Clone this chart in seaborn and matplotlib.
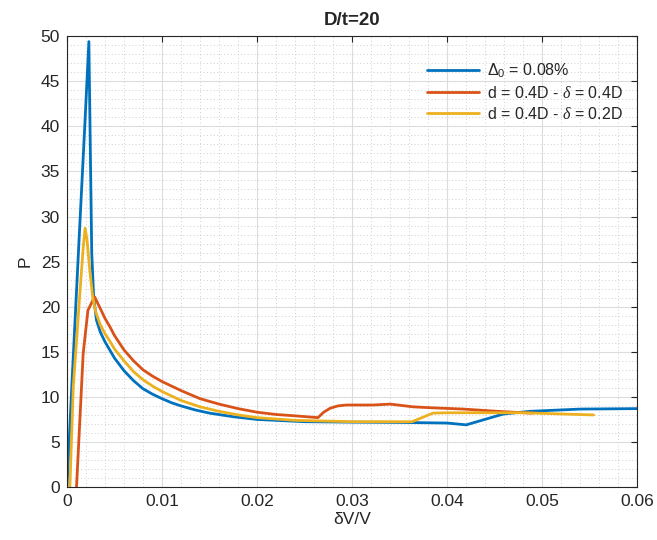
import pandas as pd
import matplotlib
matplotlib.use("Agg")
import matplotlib.pyplot as plt
import seaborn as sns
from matplotlib.ticker import MultipleLocator, FuncFormatter

# values
blue_x = [0, 0.0005, 0.0012, 0.0019, 0.0023, 0.0026, 0.0028, 0.0031, 0.0035, 0.004,
          0.0045, 0.005, 0.006, 0.007, 0.008, 0.009, 0.01, 0.011, 0.012, 0.0135,
          0.015, 0.0175, 0.02, 0.025, 0.03, 0.035, 0.04, 0.042, 0.0459, 0.0487,
          0.054, 0.06]
blue_p = [0, 11.1, 26.0, 40.7, 49.4, 26.0, 21.1, 18.5, 17.2, 16.1,
          15.2, 14.3, 12.9, 11.8, 10.9, 10.3, 9.8, 9.35, 9.0, 8.55,
          8.2, 7.8, 7.5, 7.25, 7.2, 7.17, 7.1, 6.9, 8.1, 8.4,
          8.65, 8.7]

orange_x = [0.001, 0.0017, 0.0022, 0.0029, 0.0035, 0.004, 0.0045, 0.005, 0.006, 0.007,
            0.008, 0.009, 0.01, 0.012, 0.014, 0.016, 0.018, 0.02, 0.022, 0.024,
            0.0264, 0.027, 0.0277, 0.0285, 0.0294, 0.0322, 0.034, 0.0364, 0.0382, 0.0417,
            0.0453, 0.048, 0.049]
orange_p = [0, 14.8, 19.6, 21.1, 19.8, 18.7, 17.8, 16.8, 15.2, 14.0,
            13.0, 12.3, 11.7, 10.7, 9.8, 9.2, 8.7, 8.3, 8.05, 7.9,
            7.7, 8.3, 8.75, 9.0, 9.1, 9.1, 9.2, 8.9, 8.8, 8.65,
            8.4, 8.24, 8.2]

yellow_x = [0.0003, 0.00066, 0.0014, 0.0017, 0.0019, 0.0021, 0.0024, 0.0027, 0.003, 0.0035,
            0.004, 0.0045, 0.005, 0.006, 0.007, 0.008, 0.009, 0.01, 0.012, 0.014,
            0.016, 0.018, 0.02, 0.024, 0.03, 0.0363, 0.0385, 0.040, 0.048, 0.0522,
            0.0554]
yellow_p = [0, 11.1, 22.2, 26.5, 28.7, 27.5, 24.0, 21.1, 19.5, 18.0,
            17.0, 16.2, 15.3, 14.0, 12.8, 11.9, 11.2, 10.6, 9.6, 8.9,
            8.4, 8.0, 7.7, 7.4, 7.25, 7.25, 8.2, 8.24, 8.24, 8.1,
            8.0]

labels = [r"$\Delta_0$ = 0.08%", r"d = 0.4D - $\delta$ = 0.4D", r"d = 0.4D - $\delta$ = 0.2D"]
colors = ["#0072BD", "#D95319", "#EDB120"]

df = pd.concat([
    pd.DataFrame({"x": blue_x, "P": blue_p, "case": labels[0]}),
    pd.DataFrame({"x": orange_x, "P": orange_p, "case": labels[1]}),
    pd.DataFrame({"x": yellow_x, "P": yellow_p, "case": labels[2]}),
], ignore_index=True)

sns.set_style("white")
plt.rcParams["font.family"] = ["Liberation Sans", "DejaVu Sans"]
plt.rcParams["mathtext.fontset"] = "custom"
plt.rcParams["mathtext.rm"] = "Liberation Sans"
plt.rcParams["mathtext.it"] = "Liberation Serif:italic"

fig = plt.figure(figsize=(6.57, 5.40), dpi=100)
ax = fig.add_axes([0.102, 0.098, 0.868, 0.835])

sns.lineplot(data=df, x="x", y="P", hue="case", palette=colors, sort=False,
             estimator=None, linewidth=2, ax=ax)

ax.set_xlim(0, 0.06)
ax.set_ylim(0, 50)
ax.xaxis.set_major_locator(MultipleLocator(0.01))
ax.xaxis.set_minor_locator(MultipleLocator(0.002))
ax.yaxis.set_major_locator(MultipleLocator(5))
ax.yaxis.set_minor_locator(MultipleLocator(1))
ax.xaxis.set_major_formatter(FuncFormatter(lambda v, p: "%g" % round(v, 4)))

ax.grid(which="major", color="#dcdcdc", linewidth=0.8)
ax.grid(which="minor", color="#cfcfcf", linewidth=0.7, linestyle=(0, (1, 2.5)))
ax.set_axisbelow(True)

ax.tick_params(which="major", direction="in", length=4, top=True, right=True,
               labelsize=12.5, colors="#262626", pad=5)
ax.tick_params(which="minor", length=0)
for s in ax.spines.values():
    s.set_color("#262626")
    s.set_linewidth(0.8)

ax.set_title("D/t=20", fontsize=13.5, fontweight="bold", pad=8)
ax.set_xlabel("δV/V", fontsize=12.5, labelpad=2)
ax.set_ylabel("P", fontsize=12.5, labelpad=6)

ax.legend(loc="upper right", bbox_to_anchor=(0.999, 0.975), frameon=False,
          fontsize=11.5, handlelength=3.2, handletextpad=0.5, labelspacing=0.3)

fig.savefig("out.png", dpi=100)
